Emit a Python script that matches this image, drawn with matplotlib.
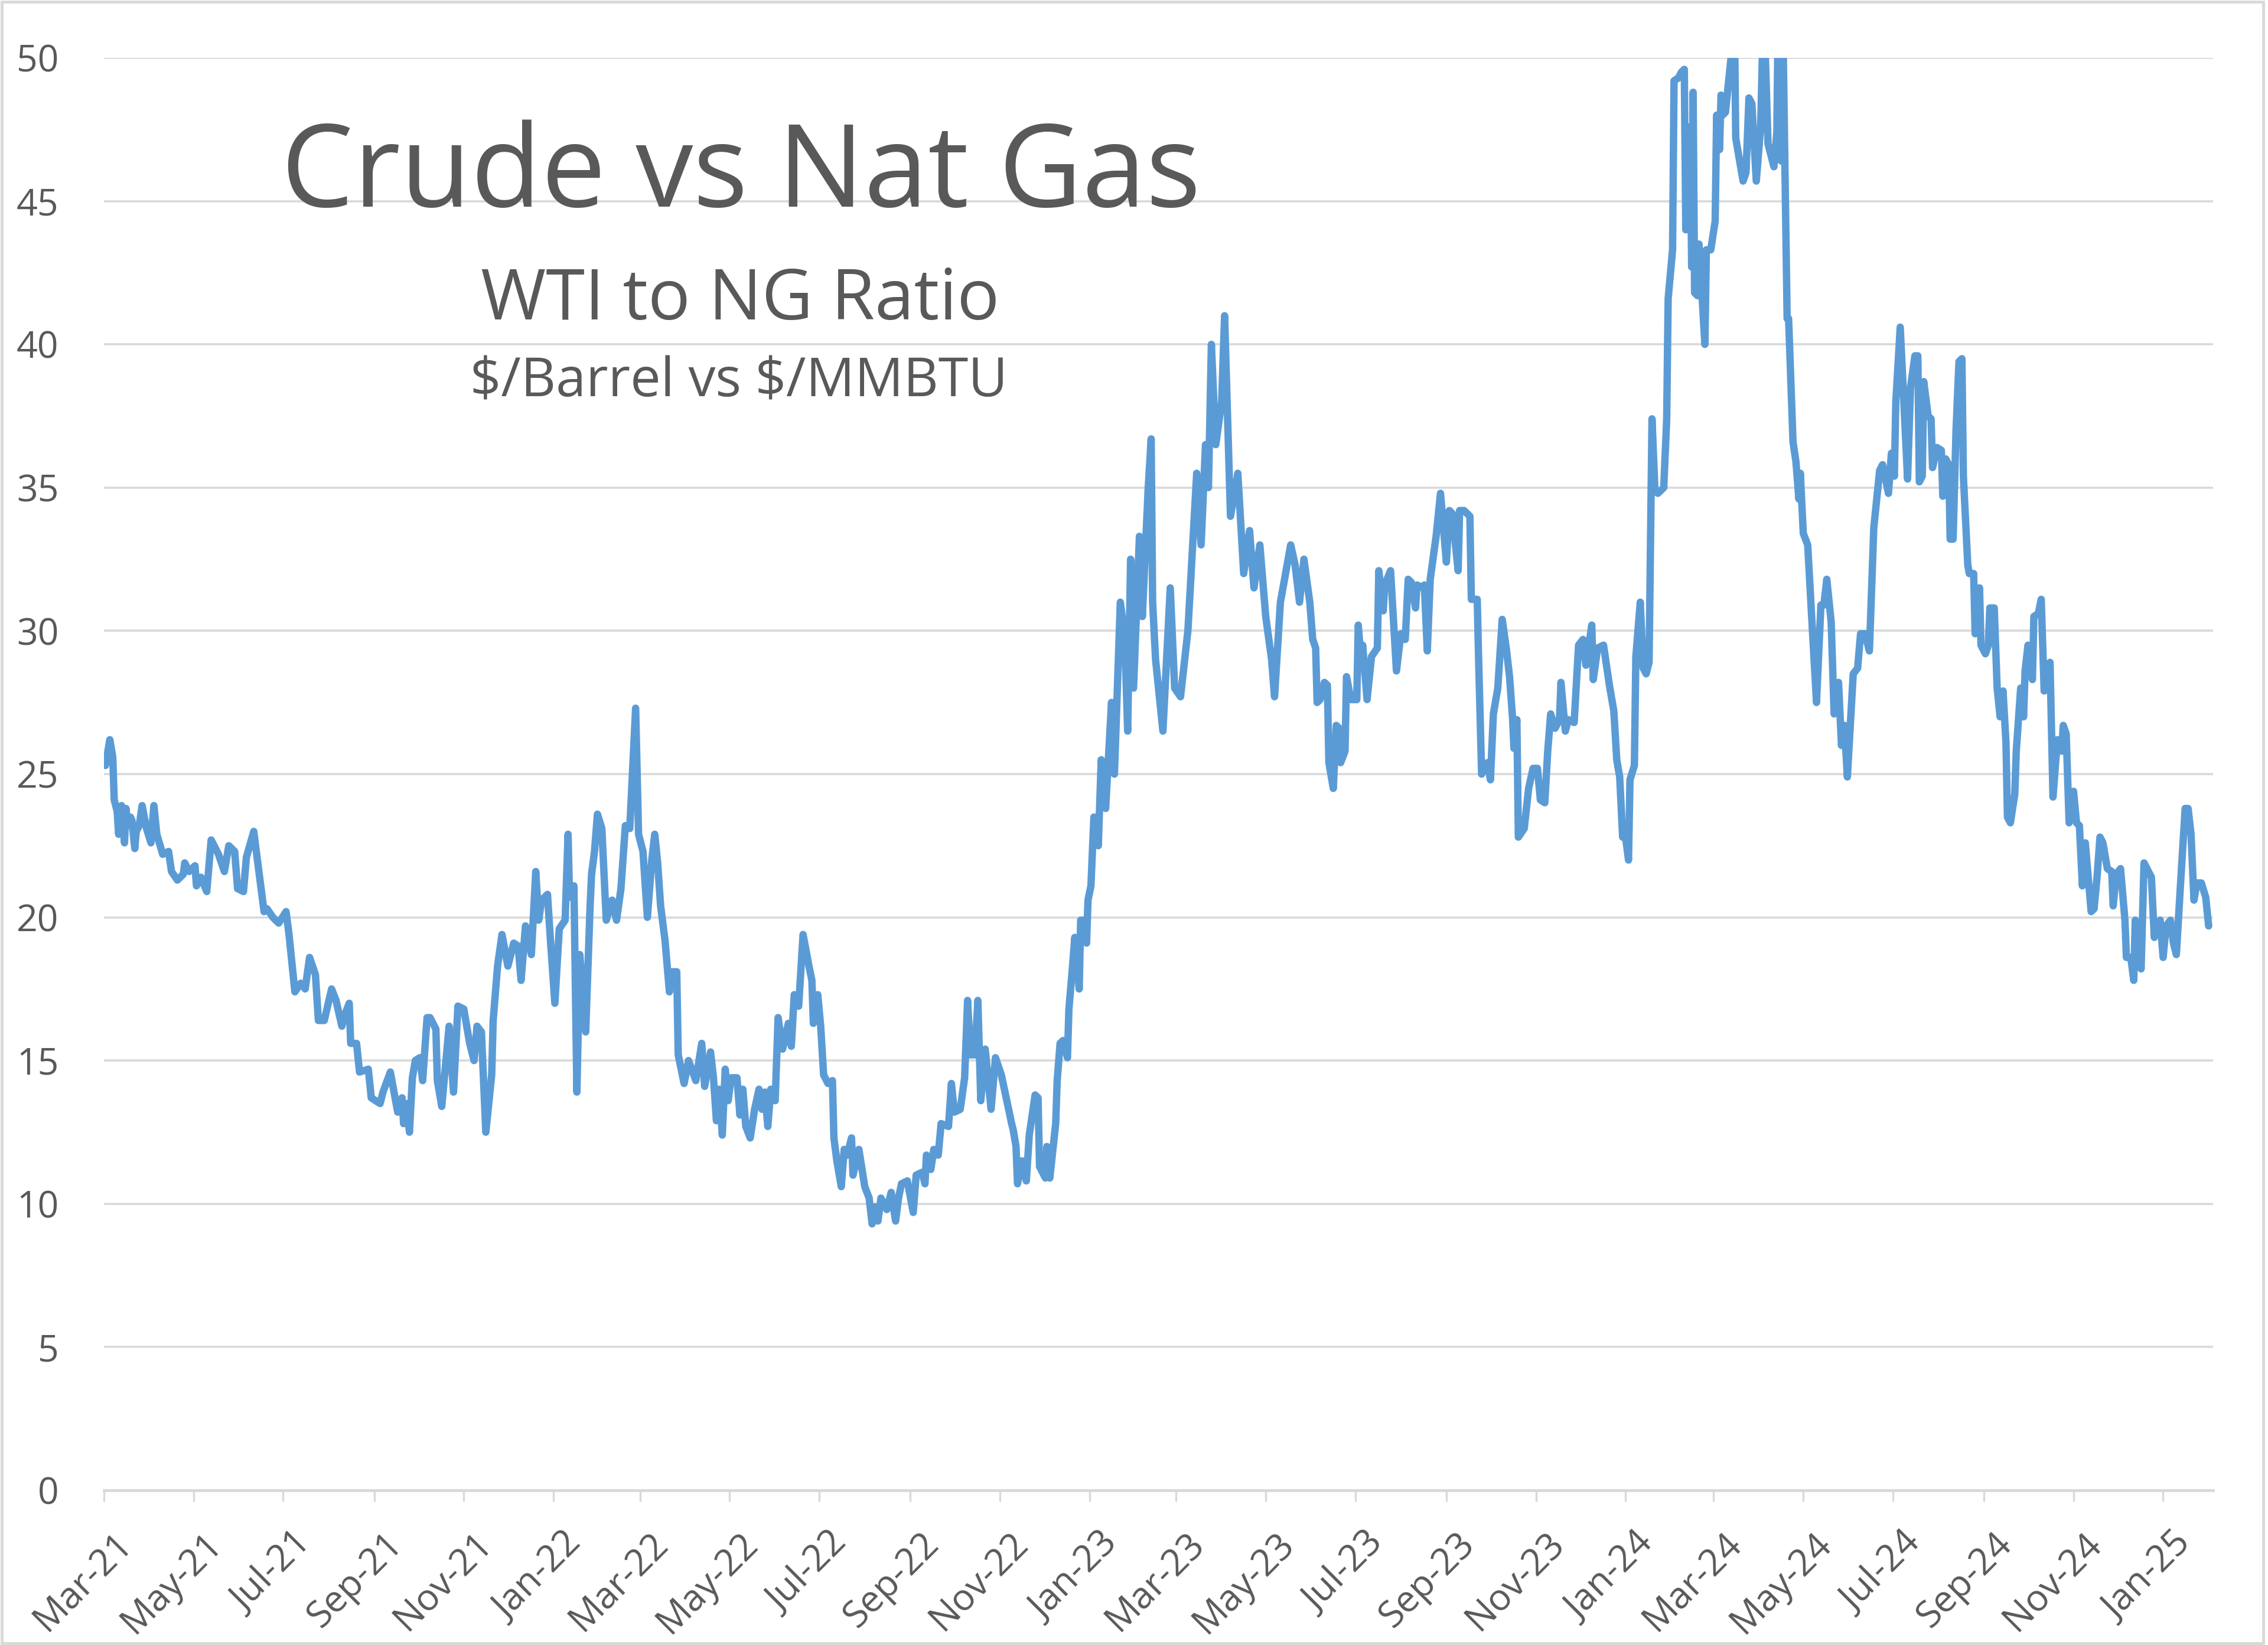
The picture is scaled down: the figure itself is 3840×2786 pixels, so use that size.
import matplotlib
matplotlib.use("Agg")
import matplotlib.pyplot as plt
import matplotlib.dates as mdates
from matplotlib.patches import Rectangle
from matplotlib.transforms import ScaledTranslation
import pandas as pd

# ---------------- data ----------------
START_DATE = "2021-03-01"

# days after START_DATE for each observation
day_offset = [
    # Mar 2021 - Sep 2021
    1, 4, 6, 7, 9, 10, 12, 14, 15, 16, 18, 19, 21, 22, 24, 26, 29, 32, 34, 36,
    40, 44, 46, 50, 54, 55, 58, 62, 63, 66, 70, 73, 78, 82, 85, 89, 91, 95, 97, 102,
    109, 111, 115, 119, 124, 126, 130, 134, 137, 140, 144, 146, 150, 155, 158, 162, 164, 167, 168, 172,
    174, 180, 182, 188, 190, 195, 200,
    # Sep 2021 - Jun 2022
    203, 204, 206, 208, 210, 212, 215, 217, 220, 222, 226, 227, 230, 235, 238, 241, 245, 249, 252, 254,
    257, 260, 264, 265, 268, 271, 275, 279, 282, 284, 287, 291, 294, 296, 298, 302, 304, 307, 310, 314,
    316, 317, 320, 322, 324, 328, 331, 332, 334, 336, 339, 342, 346, 349, 352, 355, 358, 362, 364, 367,
    370, 373, 375, 377, 379, 382, 385, 387, 390, 391, 395, 398, 403, 407,
    # Jun 2022 - Nov 2022
    409, 413, 415, 417, 419, 421, 423, 425, 427, 431, 433, 435, 437, 440, 443, 446, 448, 450, 452, 454,
    457, 459, 462, 466, 468, 470, 473, 476, 480, 482, 483, 486, 488, 490, 493, 496, 497, 499, 502, 504,
    506, 509, 510, 514, 518, 521, 523, 525, 527, 529, 533, 536, 539, 541, 543, 547, 551, 553, 557, 559,
    560, 563, 565, 568, 570, 575, 577, 579, 583, 586, 588, 590, 593, 595, 597, 600, 604, 607, 611,
    # Nov 2022 - May 2023
    618, 619, 621, 622, 625, 628, 630, 634, 636, 637, 639, 641, 642, 644, 648, 649, 651, 653, 656, 657,
    659, 661, 664, 665, 667, 669, 670, 672, 674, 677, 679, 682, 686, 688, 692, 695, 697, 699, 701, 705,
    707, 711, 713, 714, 716, 721, 726, 729, 733, 738, 744, 747, 750, 752, 754, 757, 761, 763, 767, 772,
    776, 780, 783, 787, 791, 795, 797, 801, 808, 811, 814,
    # May 2023 - Jan 2024
    817, 821, 823, 825, 826, 828, 831, 833, 834, 837, 839, 841, 842, 845, 846, 849, 853, 854, 856, 857,
    860, 863, 867, 868, 871, 872, 876, 880, 883, 886, 888, 890, 893, 894, 898, 899, 901, 903, 907, 910,
    914, 916, 918, 922, 923, 926, 930, 931, 935, 936, 938, 942, 944, 946, 949, 952, 955, 957, 959, 960,
    962, 963, 967, 970, 973, 976, 978, 981, 983, 985, 988, 991, 992, 995, 997, 1001, 1004, 1007, 1009, 1013,
    1014, 1017, 1021,
    # Jan 2024 - Jul 2024
    1025, 1028, 1030, 1032, 1034, 1036, 1038, 1039, 1042, 1043, 1046, 1048, 1050, 1052, 1054, 1056, 1058, 1062, 1064, 1065,
    1068, 1069, 1072, 1074, 1076, 1077, 1078, 1080, 1081, 1082, 1083, 1085, 1086, 1090, 1091, 1094, 1097, 1098, 1100, 1101,
    1102, 1104, 1108, 1110, 1111, 1116, 1118, 1120, 1122, 1125, 1128, 1130, 1133, 1137, 1139, 1140, 1142, 1143, 1146, 1147,
    1150, 1152, 1154, 1155, 1157, 1160, 1164, 1166, 1169, 1171, 1173, 1176, 1178, 1181, 1183, 1185, 1187, 1189, 1191, 1194,
    1196, 1199, 1202, 1203, 1205, 1209, 1211, 1215, 1217, 1219, 1220, 1223,
    # Jul 2024 - Feb 2025
    1228, 1230, 1233, 1235, 1236, 1238, 1239, 1242, 1244, 1245, 1248, 1251, 1252, 1254, 1256, 1257, 1259, 1261, 1263, 1265,
    1266, 1269, 1270, 1273, 1274, 1277, 1278, 1281, 1283, 1284, 1287, 1289, 1291, 1293, 1295, 1296, 1298, 1301, 1302, 1305,
    1307, 1308, 1310, 1313, 1314, 1317, 1319, 1321, 1323, 1325, 1327, 1330, 1333, 1334, 1336, 1338, 1341, 1343, 1345, 1347,
    1349, 1353, 1355, 1357, 1359, 1361, 1364, 1367, 1368, 1370, 1373, 1376, 1377, 1380, 1382, 1383, 1385, 1387, 1389, 1391,
    1394, 1396, 1400, 1402, 1404, 1407, 1409, 1411, 1414, 1417, 1419, 1421, 1423, 1425, 1428, 1431, 1433,
]

# WTI ($/bbl) divided by Henry Hub NG ($/MMBtu)
ratio = [
    # Mar 2021 - Sep 2021
    25.3, 26.2, 25.6, 24.1, 23.7, 22.9, 23.9, 22.6, 23.8, 23.2, 23.5, 23.4, 22.4, 23.0, 23.2, 23.9, 23.1, 22.6, 23.9, 22.9,
    22.2, 22.3, 21.6, 21.3, 21.5, 21.9, 21.6, 21.8, 21.1, 21.4, 20.9, 22.7, 22.2, 21.6, 22.5, 22.3, 21.0, 20.9, 22.1, 23.0,
    20.2, 20.3, 20.0, 19.8, 20.2, 19.4, 17.4, 17.7, 17.5, 18.6, 18.0, 16.4, 16.4, 17.5, 17.1, 16.2, 16.6, 17.0, 15.6, 15.6,
    14.6, 14.7, 13.7, 13.5, 13.9, 14.6, 13.2,
    # Sep 2021 - Jun 2022
    13.7, 12.8, 13.5, 12.5, 14.4, 15.0, 15.1, 14.3, 16.5, 16.5, 16.1, 14.3, 13.4, 16.2, 13.9, 16.9, 16.8, 15.6, 15.0, 16.2,
    16.0, 12.5, 14.5, 16.4, 18.3, 19.4, 18.3, 19.1, 19.0, 17.8, 19.7, 18.7, 21.6, 19.9, 20.6, 20.8, 19.2, 17.0, 19.6, 19.9,
    22.9, 20.7, 21.1, 13.9, 18.7, 16.0, 20.4, 21.5, 22.3, 23.6, 23.1, 19.9, 20.6, 19.9, 21.0, 23.2, 23.1, 27.3, 22.9, 22.3,
    20.0, 22.0, 22.9, 21.9, 20.4, 19.2, 17.4, 18.1, 18.1, 15.2, 14.2, 15.0, 14.3, 15.6,
    # Jun 2022 - Nov 2022
    14.1, 15.3, 14.4, 12.9, 14.0, 12.4, 14.7, 13.6, 14.4, 14.4, 13.1, 14.0, 12.7, 12.3, 13.3, 14.0, 13.3, 13.9, 12.7, 14.0,
    13.6, 16.5, 15.4, 16.3, 15.5, 17.3, 16.9, 19.4, 18.3, 17.8, 16.3, 17.3, 16.2, 14.5, 14.2, 14.3, 12.3, 11.5, 10.6, 11.9,
    11.7, 12.3, 11.0, 11.9, 10.6, 10.2, 9.3, 9.9, 9.4, 10.2, 9.8, 10.4, 9.4, 10.2, 10.7, 10.8, 9.7, 11.0, 11.1, 10.7,
    11.7, 11.2, 11.9, 11.7, 12.8, 12.7, 14.2, 13.2, 13.3, 14.4, 17.1, 15.2, 15.2, 17.1, 13.6, 15.4, 13.3, 15.1, 14.5,
    # Nov 2022 - May 2023
    12.8, 12.6, 12.0, 10.7, 11.5, 10.8, 12.4, 13.8, 13.7, 11.3, 11.1, 10.9, 12.0, 10.9, 12.8, 14.3, 15.6, 15.7, 15.1, 16.8,
    18.0, 19.3, 17.5, 19.9, 19.9, 19.1, 20.6, 21.1, 23.5, 22.5, 25.5, 23.8, 27.5, 25.0, 31.0, 29.8, 26.5, 32.5, 28.0, 33.3,
    30.5, 35.0, 36.7, 31.0, 29.0, 26.5, 31.5, 28.0, 27.7, 30.0, 35.5, 33.0, 36.5, 35.0, 40.0, 36.5, 38.0, 41.0, 34.0, 35.5,
    32.0, 33.5, 31.5, 33.0, 30.5, 29.0, 27.7, 31.0, 33.0, 32.3, 31.0,
    # May 2023 - Jan 2024
    32.5, 31.0, 29.7, 29.4, 27.5, 27.6, 28.2, 28.1, 25.4, 24.5, 26.7, 26.6, 25.4, 25.8, 28.4, 27.6, 27.6, 30.2, 28.9, 29.5,
    27.6, 29.1, 29.4, 32.1, 30.7, 31.6, 32.1, 28.6, 29.9, 29.7, 31.8, 31.7, 30.8, 31.6, 31.5, 31.6, 29.3, 31.8, 33.3, 34.8,
    32.4, 34.2, 34.1, 32.1, 34.2, 34.2, 34.0, 31.1, 31.1, 28.9, 25.0, 25.4, 24.8, 27.1, 28.0, 30.4, 29.3, 28.4, 27.0, 25.9,
    26.9, 22.8, 23.1, 24.5, 25.2, 25.2, 24.1, 24.0, 25.8, 27.1, 26.6, 26.9, 28.2, 26.5, 26.9, 26.8, 29.5, 29.7, 28.8, 30.2,
    28.3, 29.4, 29.5,
    # Jan 2024 - Jul 2024
    28.1, 27.2, 25.5, 24.9, 22.8, 22.8, 22.0, 24.8, 25.3, 29.1, 31.0, 28.7, 28.5, 28.9, 37.4, 34.9, 34.8, 35.0, 37.4, 41.6,
    43.3, 49.2, 49.3, 49.5, 49.6, 44.0, 44.1, 47.6, 42.7, 48.8, 41.8, 41.7, 43.5, 40.0, 43.3, 43.3, 44.3, 48.0, 46.8, 48.7,
    48.0, 48.1, 50.1, 52.0, 47.2, 45.7, 46.0, 48.6, 48.4, 45.7, 47.6, 52.0, 47.0, 46.2, 47.4, 52.0, 46.4, 51.5, 40.9, 40.9,
    36.6, 35.9, 34.6, 35.5, 33.4, 33.0, 29.3, 27.5, 30.9, 30.9, 31.8, 30.3, 27.1, 28.2, 26.0, 26.7, 24.9, 26.7, 28.5, 28.7,
    29.9, 29.9, 29.3, 30.7, 33.6, 35.6, 35.8, 34.8, 36.2, 35.4, 38.0, 40.6,
    # Jul 2024 - Feb 2025
    35.3, 38.5, 39.6, 39.6, 35.2, 35.4, 38.7, 37.5, 37.4, 35.7, 36.4, 36.3, 34.7, 36.0, 35.8, 33.2, 33.2, 37.0, 39.4, 39.5,
    35.4, 32.3, 32.0, 32.0, 29.9, 31.5, 29.5, 29.2, 29.5, 30.8, 30.8, 28.0, 27.0, 27.9, 26.1, 23.5, 23.3, 24.3, 25.8, 28.0,
    27.0, 28.6, 29.5, 28.3, 30.5, 30.6, 31.1, 27.9, 28.0, 28.9, 24.2, 26.2, 25.8, 26.7, 26.4, 23.3, 24.4, 23.3, 23.2, 21.1,
    22.6, 20.2, 20.3, 21.4, 22.8, 22.6, 21.7, 21.6, 20.4, 21.5, 21.7, 19.9, 18.6, 18.6, 17.8, 19.9, 19.4, 18.2, 21.9, 21.7,
    21.4, 19.3, 19.9, 18.6, 19.7, 19.9, 19.1, 18.7, 21.3, 23.8, 23.8, 22.9, 20.6, 21.2, 21.2, 20.7, 19.7,
]

y_ticks = [0, 5, 10, 15, 20, 25, 30, 35, 40, 45, 50]
x_tick_dates = pd.date_range("2021-03-01", "2025-01-01", freq="2MS")
x_end_date = "2025-02-04"

title_text = "Crude vs Nat Gas"
subtitle_text = "WTI to NG Ratio"
units_text = r"\$/Barrel vs \$/MMBTU"

assert len(day_offset) == len(ratio)

# ---------------- styling ----------------
FONT = ["Open Sans", "DejaVu Sans"]
plt.rcParams["font.family"] = FONT
TEXT_GRAY = "#595959"
GRID_GRAY = "#D9D9D9"
LINE_BLUE = "#5B9BD5"

dates = pd.Timestamp(START_DATE) + pd.to_timedelta(day_offset, unit="D")

fig = plt.figure(figsize=(38.4, 27.86), dpi=100)
fig.patch.set_facecolor("white")

# chart-area border
fig.patches.append(Rectangle((0.0008, 0.0012), 0.9972, 0.9976, transform=fig.transFigure,
                             fill=False, edgecolor=GRID_GRAY, linewidth=3.5, zorder=0))

ax = fig.add_axes([0.04583, 0.09404, 0.92995, 0.87078])
ax.plot(dates, ratio, color=LINE_BLUE, linewidth=9.0,
        solid_joinstyle="round", solid_capstyle="round", zorder=3)

ax.set_ylim(0, 50)
ax.set_xlim(pd.Timestamp(START_DATE), pd.Timestamp(x_end_date))
ax.set_yticks(y_ticks)
ax.set_xticks(x_tick_dates)
ax.xaxis.set_major_formatter(mdates.DateFormatter("%b-%y"))

ax.grid(axis="y", color=GRID_GRAY, linewidth=2.6, zorder=0)
ax.grid(axis="x", visible=False)
ax.set_axisbelow(True)
for side in ("top", "right", "left"):
    ax.spines[side].set_visible(False)
ax.spines["bottom"].set_color(GRID_GRAY)
ax.spines["bottom"].set_linewidth(3.5)

ax.tick_params(axis="y", length=0, pad=55, labelsize=45, labelcolor=TEXT_GRAY)
ax.tick_params(axis="x", length=14, width=2.4, color=GRID_GRAY, pad=29,
               labelsize=45, labelcolor=TEXT_GRAY)

shift = ScaledTranslation(0.17, 0, fig.dpi_scale_trans)
for lbl in ax.get_xticklabels():
    lbl.set_rotation(45)
    lbl.set_ha("right")
    lbl.set_va("top")
    lbl.set_rotation_mode("anchor")
    lbl.set_transform(lbl.get_transform() + shift)

fig.text(0.3266, 0.8744, title_text, ha="center", va="baseline",
         fontsize=140, color=TEXT_GRAY)
fig.text(0.3263, 0.8058, subtitle_text, ha="center", va="baseline",
         fontsize=86, color=TEXT_GRAY)
fig.text(0.3258, 0.7591, units_text, ha="center", va="baseline",
         fontsize=66, color=TEXT_GRAY)

fig.savefig("out.png", dpi=100, facecolor="white")
